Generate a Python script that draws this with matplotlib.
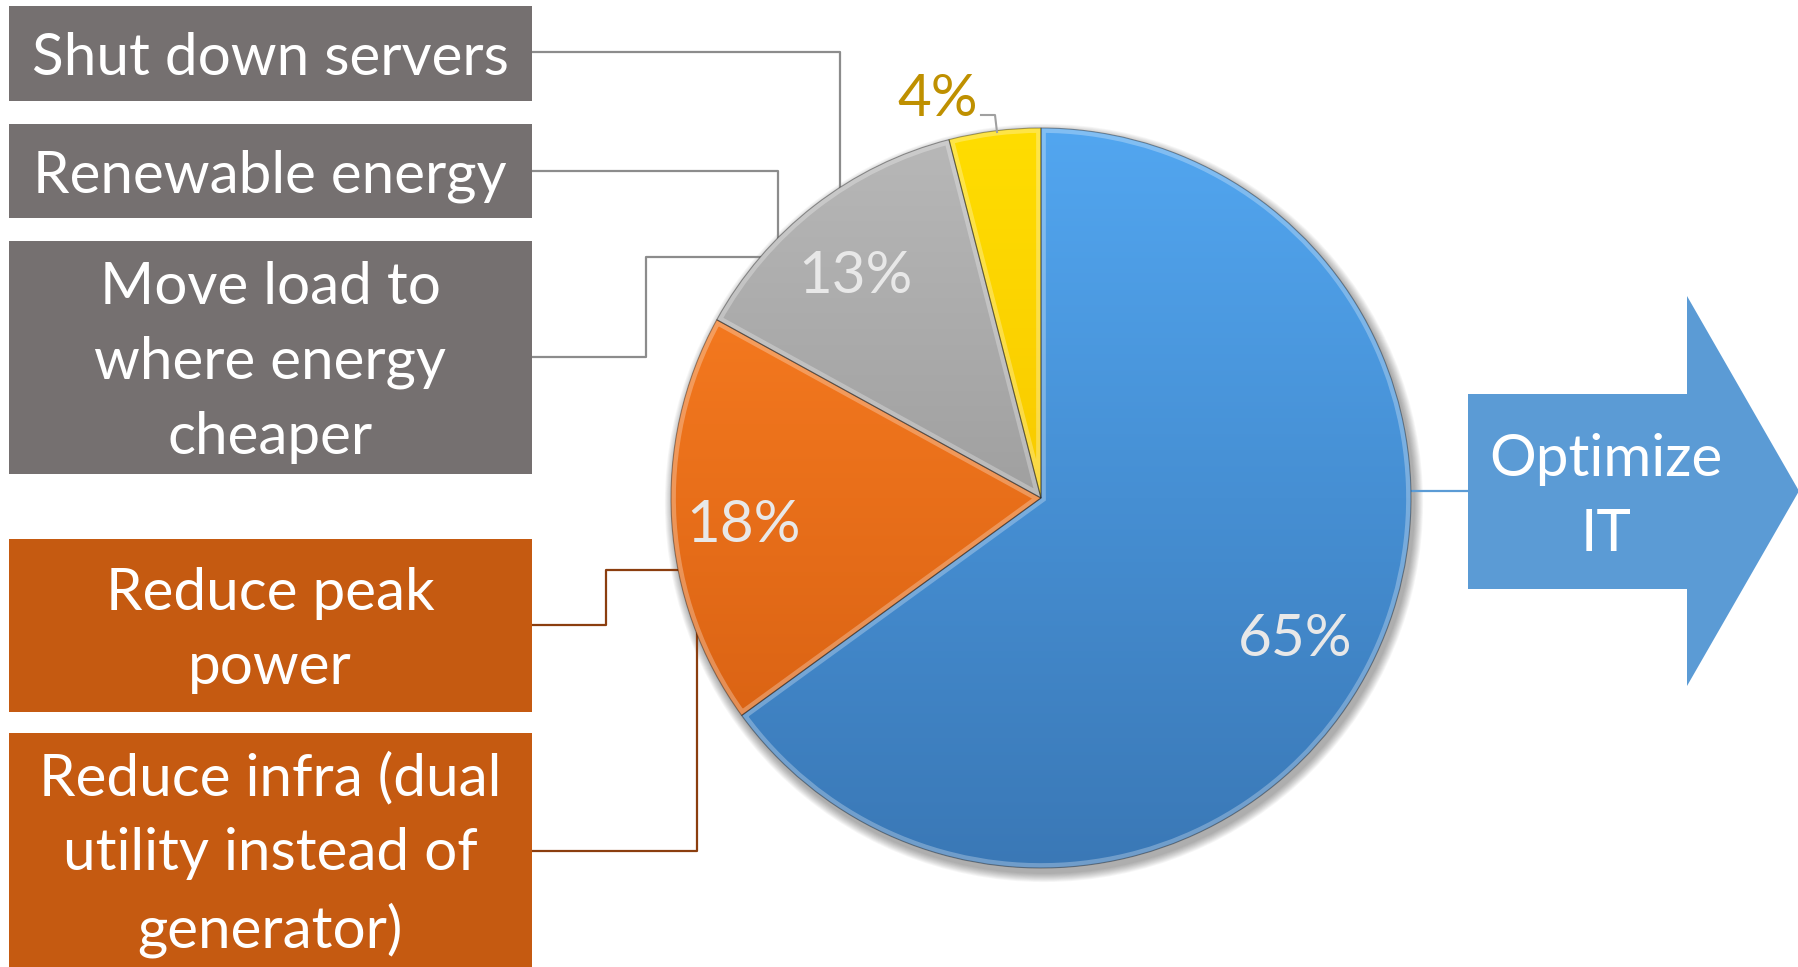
import matplotlib.pyplot as plt
import numpy as np
from matplotlib.patches import Rectangle, Polygon, Circle, Wedge
from matplotlib.colors import LinearSegmentedColormap

plt.rcParams['font.family'] = ['Lato', 'DejaVu Sans']

# pie data
shares = [65, 18, 13, 4]
top_colors = ['#52a6f0', '#ff8224', '#b8b8b8', '#ffdd00']
bottom_colors = ['#3a78b6', '#d25c10', '#888888', '#f2b800']
pct_colors = ['#e8e8e8', '#e8e8e8', '#e8e8e8', '#bf9000']

# boxes on the left: text, top/bottom in pixels, fill
box_texts = ['Shut down servers', 'Renewable energy',
             'Move load to\nwhere energy\ncheaper',
             'Reduce peak\npower',
             'Reduce infra (dual\nutility instead of\ngenerator)']
box_tops = [6, 124, 241, 539, 733]
box_bottoms = [101, 218, 474, 712, 967]
box_fill = ['#757070', '#757070', '#757070', '#c55a11', '#c55a11']
line_col = ['#8c8c8c', '#8c8c8c', '#8c8c8c', '#8b3e0f', '#8b3e0f']

# elbow connectors (x, y in pixels from the top)
connectors = [
    [(532, 52), (840, 52), (840, 197)],
    [(532, 171), (778, 171), (778, 240)],
    [(532, 357), (646, 357), (646, 257), (762, 257)],
    [(532, 625), (606, 625), (606, 570), (679, 570)],
    [(532, 851), (697, 851), (697, 633)],
]

W, H = 1799, 967
fig = plt.figure(figsize=(W / 100, H / 100), dpi=100)
ax = fig.add_axes([0, 0, 1, 1])

def up(y):
    return H - y

cx, cy, R = 1041, up(498), 370

# soft shadow under the pie
for k in range(10):
    ax.add_patch(Circle((cx + 3, cy - 5), R + 1 + k * 0.9, color='k',
                        alpha=0.035, lw=0, zorder=1))

wedges, _, autotexts = ax.pie(shares, startangle=90, counterclock=False,
                              center=(cx, cy), radius=R,
                              autopct='%d%%', pctdistance=0.79,
                              wedgeprops=dict(edgecolor=(0, 0, 0, 0.35),
                                              linewidth=0.8),
                              textprops=dict(fontsize=42))

grad = np.linspace(0, 1, 256).reshape(-1, 1)
for w, c0, c1 in zip(wedges, top_colors, bottom_colors):
    w.set_facecolor('none')
    w.set_zorder(4)
    cmap = LinearSegmentedColormap.from_list('g', [c0, c1])
    im = ax.imshow(grad, cmap=cmap, aspect='auto', origin='upper',
                   extent=(cx - R, cx + R, cy - R, cy + R), zorder=2)
    im.set_clip_path(w)
    # light inner rim for a bevelled look
    rim = Wedge(w.center, w.r, w.theta1, w.theta2, facecolor='none',
                edgecolor=(1, 1, 1, 0.28), lw=7, zorder=3)
    ax.add_patch(rim)
    rim.set_clip_path(w)

for t, c in zip(autotexts, pct_colors):
    t.set_color(c)
    t.set_zorder(5)
    x, y = t.get_position()
    t.set_position((x - 6, y - 9))

# small slice label sits outside with a short leader
autotexts[3].set_position((938, up(100)))
ax.plot([981, 995, 997], [up(115), up(115), up(132)], color='#a0a0a0',
        lw=1.5, zorder=4)

# left boxes and connectors
for txt, y0, y1, fc, lc, pts in zip(box_texts, box_tops, box_bottoms,
                                     box_fill, line_col, connectors):
    ax.add_patch(Rectangle((9, up(y1)), 523, y1 - y0, color=fc, lw=0,
                           zorder=2))
    ax.text(270, up((y0 + y1) / 2 + 5), txt, color='white', fontsize=42,
            ha='center', va='center', linespacing=1.5, zorder=3)
    xs, ys = zip(*pts)
    ax.plot(xs, [up(v) for v in ys], color=lc, lw=1.6, zorder=1)

# arrow on the right
arrow = [(1468, 394), (1687, 394), (1687, 296), (1799, 491),
         (1687, 686), (1687, 589), (1468, 589)]
ax.add_patch(Polygon([(x, up(y)) for x, y in arrow], closed=True,
                     color='#5b9bd5', lw=0, zorder=2))
ax.plot([1402, 1468], [up(491), up(491)], color='#5b9bd5', lw=1.6, zorder=1)
ax.text(1606, up(497), 'Optimize\nIT', color='white', fontsize=42,
        ha='center', va='center', linespacing=1.5, zorder=3)

ax.set_xlim(0, W)
ax.set_ylim(0, H)
ax.axis('off')
fig.savefig('out.png', dpi=100, facecolor='white')
